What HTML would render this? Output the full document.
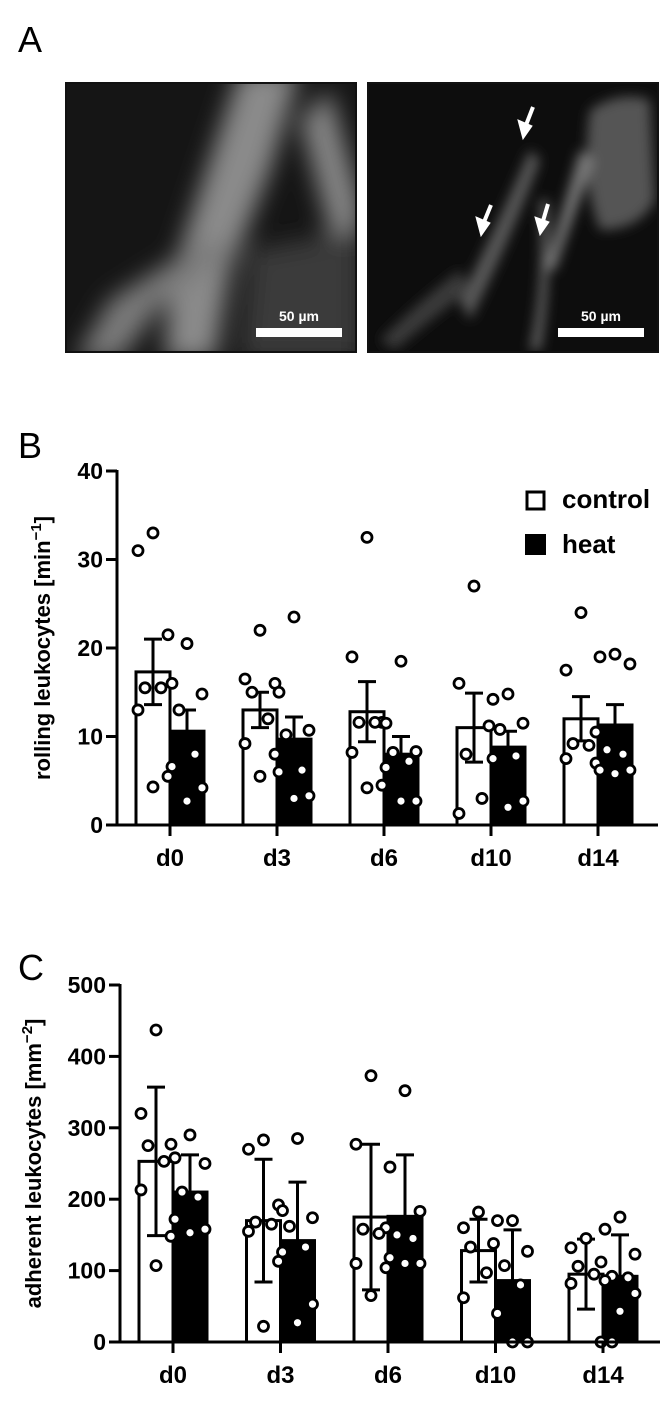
<!DOCTYPE html>
<html><head><meta charset="utf-8"><style>
body{margin:0;background:#fff;width:668px;height:1400px;overflow:hidden;font-family:"Liberation Sans",Arial,sans-serif}
svg text{font-family:"Liberation Sans",Arial,sans-serif}
</style></head><body>
<svg id="fig" width="668" height="1400" viewBox="0 0 668 1400" xmlns="http://www.w3.org/2000/svg">
<defs>
<filter id="bl" x="-20%" y="-20%" width="140%" height="140%"><feGaussianBlur stdDeviation="12"/></filter>
<filter id="bl2" x="-20%" y="-20%" width="140%" height="140%"><feGaussianBlur stdDeviation="6"/></filter>
<clipPath id="c1"><rect x="66" y="83" width="290" height="269"/></clipPath>
<clipPath id="c2"><rect x="368" y="83" width="290" height="269"/></clipPath>
</defs>
<text x="18" y="52" font-size="36">A</text>
<text x="18" y="458" font-size="36">B</text>
<text x="18" y="980" font-size="36">C</text>

<g clip-path="url(#c1)">
<rect x="66" y="83" width="290" height="269" fill="#151515"/>
<g filter="url(#bl)">
<path d="M240 70 L300 70 L270 170 L230 270 L215 360 L165 360 L170 280 L200 190 Z" fill="#8a8a8a"/>
<path d="M205 240 L235 250 L165 300 L120 360 L75 360 L110 300 Z" fill="#7a7a7a"/>
<path d="M300 120 L330 90 L360 200 L360 290 L335 250 Z" fill="#858585"/>
<path d="M250 250 L360 230 L360 360 L240 360 Z" fill="#3a3a3a"/>
</g>
</g>
<rect x="66" y="83" width="290" height="269" fill="none" stroke="#111" stroke-width="2"/>
<rect x="256" y="328" width="86" height="9" fill="#fff"/>
<text x="299" y="321" font-size="14" font-weight="bold" fill="#fff" text-anchor="middle">50 µm</text>

<g clip-path="url(#c2)">
<rect x="368" y="83" width="290" height="269" fill="#0d0d0d"/>
<g filter="url(#bl2)">
<path d="M460 300 Q500 220 530 150 L540 160 Q510 240 470 320 Z" fill="#5a5a5a"/>
<path d="M540 200 Q545 280 530 350 L540 350 Q552 280 548 200 Z" fill="#666"/>
<path d="M590 110 Q620 90 650 100 L655 200 Q640 230 600 230 Q580 180 590 110 Z" fill="#555"/>
<path d="M580 150 Q560 220 545 270 L555 270 Q575 210 595 160 Z" fill="#777"/>
<path d="M380 340 Q420 300 460 270 L470 290 Q430 320 395 350 Z" fill="#3a3a3a"/>
</g>
</g>
<rect x="368" y="83" width="290" height="269" fill="none" stroke="#111" stroke-width="2"/>
<g fill="#fff" stroke="#fff">
<line x1="533" y1="107" x2="526" y2="125" stroke-width="4"/><polygon points="518,120 532,126 523,139"/>
<line x1="491" y1="205" x2="484" y2="222" stroke-width="4"/><polygon points="476,217 490,223 481,236"/>
<line x1="548" y1="204" x2="543" y2="221" stroke-width="4"/><polygon points="535,217 549,222 540,235"/>
</g>
<rect x="558" y="328" width="86" height="9" fill="#fff"/>
<text x="601" y="321" font-size="14" font-weight="bold" fill="#fff" text-anchor="middle">50 µm</text>

<g id="chartB"></g>
<g id="chartC"></g>
</svg>
<script>
const categories = ["d0","d3","d6","d10","d14"];
// Panel B
const bTicks = [0,10,20,30,40];
const bCtrlMean = [17.3,13,12.8,11,12];
const bCtrlSD = [3.7,2,3.4,3.9,2.5];
const bHeatMean = [10.6,9.7,8,8.8,11.3];
const bHeatSD = [2.4,2.5,2,1.8,2.3];
const bCtrlPts = [[33,31,21.5,15.5,15.5,13,5.5,4.3],[22,16.5,16,15,12,9.2,8,5.5],[32.5,19,11.6,11.6,11.6,8.2,4.5,4.2],[27,16,11.2,8,3,1.3],[24,17.5,10.5,9.2,9,7.5,7]];
const bHeatPts = [[20.5,16,14.8,13,8,6.6,4.2,2.7],[23.5,15,10.7,10.2,6.2,6,3.3,3],[18.5,11.5,8.3,8.2,7.2,6.5,2.7,2.7],[14.8,14.2,11.5,10.8,7.8,7.5,2.7,2],[19.3,19,18.2,8.5,8,6.2,6.2,5.8]];
// Panel C
const cTicks = [0,100,200,300,400,500];
const cCtrlMean = [253,170,175,128,95];
const cCtrlSD = [104,86,102,44,49];
const cHeatMean = [210,142,176,86,92];
const cHeatSD = [52,82,86,71,58];
const cCtrlPts = [[437,320,277,275,253,213,148,107],[283,270,192,168,165,155,113,22],[373,277,160,158,152,110,104,65],[182,160,138,133,97,62],[145,132,112,106,95,82,0]];
const cHeatPts = [[290,258,250,210,203,172,158,153],[285,184,174,162,133,126,53,27],[352,245,183,150,145,118,110,110],[170,170,127,107,80,40,0,0],[175,158,123,92,90,86,68,43,0]];

const NS="http://www.w3.org/2000/svg";
function mk(p,tag,at){const e=document.createElementNS(NS,tag);for(const k in at)e.setAttribute(k,at[k]);p.appendChild(e);return e;}
const jit=[0,-15,15,-8,8,-15,15,0,-8,8];

function chart(g,cfg){
  const y=v=>cfg.y0-(v/cfg.max)*(cfg.y0-cfg.yTop);
  const x=i=>cfg.x0+i*cfg.step;
  const bw=34;
  categories.forEach((c,i)=>{
    const cx=x(i);
    const r1=mk(g,'rect',{x:cx-bw,y:y(cfg.cm[i]),width:bw,height:cfg.y0-y(cfg.cm[i]),fill:'#fff',stroke:'#000','stroke-width':3});
    
    
    const r2=mk(g,'rect',{x:cx,y:y(cfg.hm[i]),width:bw,height:cfg.y0-y(cfg.hm[i]),fill:'#000',stroke:'#000','stroke-width':3});
    
    
    [[cx-bw/2,cfg.cm[i],cfg.cs[i],'control'],[cx+bw/2,cfg.hm[i],cfg.hs[i],'heat']].forEach(([ex,m,s,n])=>{
      const e=mk(g,'path',{d:`M${ex} ${y(m-s)}V${y(m+s)}M${ex-9} ${y(m+s)}H${ex+9}M${ex-9} ${y(m-s)}H${ex+9}`,stroke:'#000','stroke-width':3,fill:'none'});
      
      
    });
  });
  categories.forEach((c,i)=>{
    [[x(i)-bw/2,cfg.cp[i],'control'],[x(i)+bw/2,cfg.hp[i],'heat']].forEach(([px,arr,n])=>{
      arr.forEach((v,k)=>{
        const d=mk(g,'circle',{cx:px+jit[k%jit.length],cy:y(v),r:5,fill:'#fff',stroke:'#000','stroke-width':2.8});
        
        
      });
    });
  });
  const ya=mk(g,'line',{x1:cfg.ax,y1:cfg.yTop-1,x2:cfg.ax,y2:cfg.y0,stroke:'#000','stroke-width':3});
  
  
  const xa=mk(g,'line',{x1:cfg.ax-1,y1:cfg.y0,x2:cfg.xEnd,y2:cfg.y0,stroke:'#000','stroke-width':3});
  
  
  cfg.ticks.forEach(t=>{
    const l=mk(g,'line',{x1:cfg.ax-11,y1:y(t),x2:cfg.ax,y2:y(t),stroke:'#000','stroke-width':3});
    
    
    const tx=mk(g,'text',{x:cfg.ax-14,y:y(t)+8,'font-size':23,'font-weight':'bold','text-anchor':'end'});
    tx.textContent=t;
    
    
  });
  categories.forEach((c,i)=>{
    const l=mk(g,'line',{x1:x(i),y1:cfg.y0,x2:x(i),y2:cfg.y0+11,stroke:'#000','stroke-width':3});
    
    
    const tx=mk(g,'text',{x:x(i),y:cfg.y0+41,'font-size':24,'font-weight':'bold','text-anchor':'middle'});
    tx.textContent=c;
    
    
  });
  const tt=mk(g,'text',{x:0,y:0,'font-size':22,'font-weight':'bold','text-anchor':'middle',transform:`translate(${cfg.titleX},${(cfg.y0+cfg.yTop)/2}) rotate(-90)`});
  tt.innerHTML=cfg.title;
  
  
}
chart(document.getElementById('chartB'),{y0:825,yTop:471,max:40,x0:170,step:107,ax:117,xEnd:658,ticks:bTicks,cm:bCtrlMean,cs:bCtrlSD,hm:bHeatMean,hs:bHeatSD,cp:bCtrlPts,hp:bHeatPts,titleX:50,title:'rolling leukocytes [min<tspan dy="-9" font-size="15">−1</tspan><tspan dy="9">]</tspan>'});
chart(document.getElementById('chartC'),{y0:1342,yTop:985,max:500,x0:173,step:107.5,ax:120,xEnd:660,ticks:cTicks,cm:cCtrlMean,cs:cCtrlSD,hm:cHeatMean,hs:cHeatSD,cp:cCtrlPts,hp:cHeatPts,titleX:41,title:'adherent leukocytes [mm<tspan dy="-9" font-size="15">−2</tspan><tspan dy="9">]</tspan>'});
const gB=document.getElementById('chartB');
const lg=mk(gB,'g',{});


mk(lg,'rect',{x:527,y:492,width:17,height:17,fill:'#fff',stroke:'#000','stroke-width':3});
mk(lg,'rect',{x:525,y:534,width:21,height:21,fill:'#000'});
const t1=mk(lg,'text',{x:562,y:508,'font-size':26,'font-weight':'bold'});t1.textContent='control';


const t2=mk(lg,'text',{x:562,y:553,'font-size':26,'font-weight':'bold'});t2.textContent='heat';


</script>
</body></html>
